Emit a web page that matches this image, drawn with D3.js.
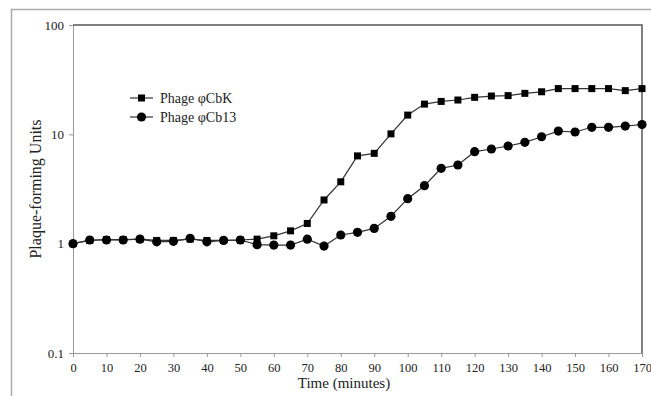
<!DOCTYPE html>
<html>
<head>
<meta charset="utf-8">
<script src="https://cdn.jsdelivr.net/npm/d3@7"></script>
<style>
  body { margin: 0; background: #fff; }
  text { font-family: "Liberation Serif", "Times New Roman", serif; fill: #222; }
  .line { fill: none; stroke: #333; stroke-width: 1.2; }
</style>
</head>
<body>
<script>
// sampling times (minutes)
const times = d3.range(0, 171, 5);

const cbk = [1.0, 1.07, 1.09, 1.09, 1.1, 1.07, 1.07, 1.1, 1.07, 1.07, 1.08, 1.10,
  1.18, 1.31, 1.53, 2.51, 3.68, 6.35, 6.7, 10.1, 15.0, 18.9, 20.0, 20.6, 21.8,
  22.4, 22.6, 23.7, 24.5, 26.2, 26.2, 26.2, 26.2, 25.1, 26.2];

const cb13 = [1.0, 1.08, 1.08, 1.08, 1.10, 1.04, 1.05, 1.12, 1.04, 1.07, 1.08, 0.98,
  0.97, 0.97, 1.10, 0.95, 1.20, 1.27, 1.38, 1.78, 2.58, 3.39, 4.89, 5.24, 6.94,
  7.34, 7.82, 8.45, 9.5, 10.7, 10.5, 11.6, 11.6, 11.9, 12.3];

const xTicks = d3.range(0, 171, 10);
const yTicks = [0.1, 1, 10, 100];

const width = 651,
      height = 396;

const margin = {top: 25, right: 9, bottom: 43, left: 73};

const x = d3.scaleLinear()
    .domain([0, 170])
    .range([margin.left, width - margin.right]);

const y = d3.scaleLog()
    .domain([0.1, 100])
    .range([height - margin.bottom, margin.top]);

const svg = d3.select("body").append("svg")
    .attr("width", width)
    .attr("height", height);

// outer frame
svg.append("rect")
    .attr("x", 11.5).attr("y", 9.5)
    .attr("width", 700).attr("height", 500)
    .attr("fill", "none")
    .attr("stroke", "#aaa")
    .attr("stroke-width", 1.5);

// plot frame top / right
svg.append("path")
    .attr("d", `M${x(0)},${y(100)}H${x(170)}V${y(0.1)}`)
    .attr("fill", "none")
    .attr("stroke", "#555")
    .attr("stroke-width", 1.5);

// x axis
const xAxis = svg.append("g")
    .attr("transform", `translate(0,${y(0.1)})`);

xAxis.call(d3.axisBottom(x).tickValues(d3.range(0, 171, 2)).tickSize(3).tickFormat(""))
    .call(g => g.select(".domain").remove());
xAxis.call(d3.axisBottom(x).tickValues(xTicks).tickSize(4).tickPadding(6)
    .tickFormat(d3.format("d")))
    .call(g => g.selectAll(".tick text").attr("font-size", 12.5));
xAxis.selectAll("line, path").attr("stroke", "#999");

// y axis
const yMinor = [];
[0.1, 1, 10].forEach(d => { for (let k = 2; k < 10; k++) yMinor.push(d * k); });

const yAxis = svg.append("g")
    .attr("transform", `translate(${x(0)},0)`);

yAxis.call(d3.axisLeft(y).tickValues(yMinor).tickSize(3).tickFormat(""))
    .call(g => g.select(".domain").remove());
yAxis.call(d3.axisLeft(y).tickValues(yTicks).tickSize(4).tickPadding(5)
    .tickFormat(d => d < 1 ? "0.1" : d3.format("d")(d)))
    .call(g => g.selectAll(".tick text").attr("font-size", 13));
yAxis.selectAll("line, path").attr("stroke", "#999");

// axis titles
svg.append("text")
    .attr("x", 344)
    .attr("y", 388)
    .attr("text-anchor", "middle")
    .attr("font-size", 15)
    .text("Time (minutes)");

svg.append("text")
    .attr("transform", `translate(41,${(y(0.1) + y(100)) / 2}) rotate(-90)`)
    .attr("text-anchor", "middle")
    .attr("font-size", 16)
    .text("Plaque-forming Units");

// series
const line = d3.line()
    .x((d, i) => x(times[i]))
    .y(d => y(d));

const sqSize = 7, circR = 4.6;

svg.append("path").datum(cb13).attr("class", "line").attr("d", line);
svg.append("path").datum(cbk).attr("class", "line").attr("d", line);

svg.append("g").selectAll("rect")
    .data(cbk)
    .join("rect")
    .attr("x", (d, i) => x(times[i]) - sqSize / 2)
    .attr("y", d => y(d) - sqSize / 2)
    .attr("width", sqSize).attr("height", sqSize)
    .attr("fill", "#000");

svg.append("g").selectAll("circle")
    .data(cb13)
    .join("circle")
    .attr("cx", (d, i) => x(times[i]))
    .attr("cy", d => y(d))
    .attr("r", circR)
    .attr("fill", "#000");

// legend
const legend = svg.append("g");
const legendItems = [
  {label: "Phage φCbK", shape: "square", y: 98},
  {label: "Phage φCb13", shape: "circle", y: 117}
];

legendItems.forEach(item => {
  legend.append("line")
      .attr("x1", 130).attr("x2", 153)
      .attr("y1", item.y).attr("y2", item.y)
      .attr("stroke", "#333").attr("stroke-width", 1.2);
  if (item.shape === "square") {
    legend.append("rect")
        .attr("x", 141.5 - sqSize / 2).attr("y", item.y - sqSize / 2)
        .attr("width", sqSize).attr("height", sqSize)
        .attr("fill", "#000");
  } else {
    legend.append("circle")
        .attr("cx", 141.5).attr("cy", item.y).attr("r", circR)
        .attr("fill", "#000");
  }
  legend.append("text")
      .attr("x", 160).attr("y", item.y)
      .attr("dy", "0.35em")
      .attr("font-size", 14)
      .text(item.label);
});
</script>
</body>
</html>
